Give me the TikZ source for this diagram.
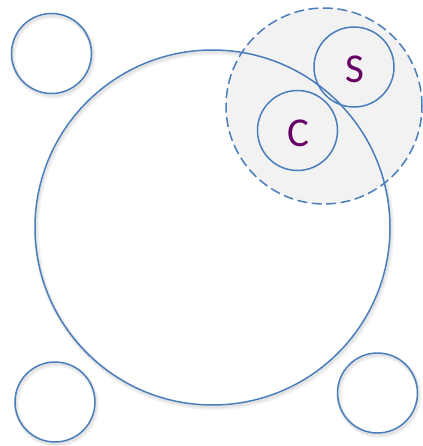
\documentclass[tikz,border=0pt]{standalone}
\usepackage{fontspec}
\setmainfont{Carlito}
\definecolor{ringblue}{HTML}{4A7EBB}
\definecolor{letterpurple}{HTML}{660066}
\definecolor{zonegray}{HTML}{F2F2F2}
\begin{document}
\begin{tikzpicture}[x=1pt,y=-1pt,
  ring/.style={circle, draw=ringblue, line width=1.5pt, inner sep=0pt, minimum size=#1},
  shade ring/.style={circle, draw=black, draw opacity=0.05, line width=5pt, inner sep=0pt, minimum size=#1},
  shade core/.style={circle, draw=black, draw opacity=0.06, line width=2.5pt, inner sep=0pt, minimum size=#1},
  letter/.style={text=letterpurple, font=\fontsize{41}{48}\selectfont}]
\useasboundingbox (0,0) rectangle (422,446);
% soft shadows
\node[shade ring=80pt] (s1) at (53,56) {};
\node[shade core=80pt] (c1) at (52.5,55.5) {};
\node[shade ring=80pt] (s2) at (56.5,404.5) {};
\node[shade core=80pt] (c2) at (56,404) {};
\node[shade ring=80pt] (s3) at (379,395.5) {};
\node[shade core=80pt] (c3) at (378.5,395) {};
\node[shade ring=355pt] (s4) at (214,230) {};
\node[shade core=355pt] (c4) at (213.5,229.5) {};
% gray zone
\node[circle, fill=zonegray, inner sep=0pt, minimum size=196pt] (zonefill) at (324,106) {};
% main circles
\node[ring=355pt] (big) at (212.5,227.5) {};
\node[circle, draw=ringblue, line width=1.5pt, dash pattern=on 10pt off 4.5pt, inner sep=0pt, minimum size=196pt] (zone) at (324,106) {};
\node[ring=80pt] (tl) at (51.5,53.5) {};
\node[ring=80pt] (bl) at (55,402) {};
\node[ring=80pt] (br) at (377.5,393) {};
\node[ring=80pt] (S) at (354,67) {};
\node[ring=80pt] (C) at (297.5,130.5) {};
\node[letter] (Slabel) at (355,69) {S};
\node[letter] (Clabel) at (298,133) {C};
\end{tikzpicture}
\end{document}
